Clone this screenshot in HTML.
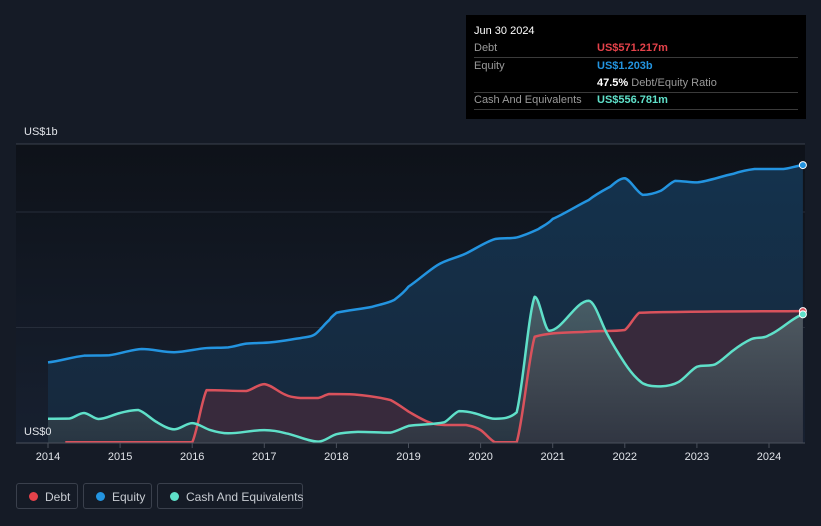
<!DOCTYPE html>
<html><head><meta charset="utf-8"><style>
body{margin:0;background:#151b26;width:821px;height:526px;overflow:hidden;font-family:"Liberation Sans",sans-serif}
svg{position:absolute;left:0;top:0}
.tip{position:absolute;left:466px;top:15px;width:340px;height:104px;background:#000;color:#fff;font-size:11px}
.row{position:absolute;left:8px;width:324px;border-bottom:1px solid #3a3a3a;height:17px}
.lab{position:absolute;left:0;top:2px;color:#9a9a9a}
.val{position:absolute;left:123px;top:2px;font-weight:bold;white-space:nowrap}
.leg{position:absolute;top:483px;height:26px;border:1px solid #3a404c;border-radius:3px;color:#c8ccd2;font-size:12px;box-sizing:border-box;white-space:nowrap}
.leg i{position:absolute;left:12px;top:8px;width:9px;height:9px;border-radius:50%}
.leg span{position:absolute;left:28px;top:6px}
</style></head><body>
<svg width="821" height="526" id="chart">
<defs>
<linearGradient id="bg" x1="0" y1="0" x2="0" y2="1"><stop offset="0" stop-color="#0e1219"/><stop offset="1" stop-color="#172030"/></linearGradient>
<linearGradient id="eq" x1="0" y1="0" x2="0" y2="1"><stop offset="0" stop-color="#14324d"/><stop offset="1" stop-color="#16283c"/></linearGradient>
<linearGradient id="ca" x1="0" y1="0" x2="0" y2="1"><stop offset="0" stop-color="#5a6e72"/><stop offset="1" stop-color="#2e3a44"/></linearGradient>
</defs>
<rect x="16" y="144" width="789" height="299" fill="url(#bg)"/>
<g id="grid"></g><g id="areas"></g><g id="lines"></g><g id="xaxis"></g>
<text x="24" y="135" fill="#e0e3e8" font-size="11">US$1b</text>
<text x="24" y="435" fill="#e0e3e8" font-size="11">US$0</text>
</svg>
<div class="tip">
<div style="position:absolute;left:8px;top:10px;font-size:11px">Jun 30 2024</div>
<div class="row" style="top:25px"><span class="lab">Debt</span><span class="val" style="color:#e5424a">US$571.217m</span></div>
<div class="row" style="top:43px;border:none"><span class="lab">Equity</span><span class="val" style="color:#2394e0">US$1.203b</span></div>
<div class="row" style="top:60px"><span class="val" style="color:#fff">47.5% <span style="color:#9a9a9a;font-weight:normal">Debt/Equity Ratio</span></span></div>
<div class="row" style="top:77px"><span class="lab">Cash And Equivalents</span><span class="val" style="color:#5fe0c9">US$556.781m</span></div>
</div>
<div class="leg" style="left:16px;width:62px"><i style="background:#e5424a"></i><span>Debt</span></div>
<div class="leg" style="left:83px;width:69px"><i style="background:#2394e0"></i><span>Equity</span></div>
<div class="leg" style="left:157px;width:146px"><i style="background:#5fe0c9"></i><span>Cash And Equivalents</span></div>
<script>
const years=[2014,2015,2016,2017,2018,2019,2020,2021,2022,2023,2024];
const gridValues=[0.5,1.0];
const equityT=[2014,2014.5,2014.85,2015.3,2015.75,2016.2,2016.5,2016.75,2017.1,2017.5,2017.7,2017.9,2018,2018.5,2018.8,2019,2019.4,2019.8,2020.2,2020.5,2020.8,2021,2021.5,2021.8,2022,2022.25,2022.5,2022.7,2023,2023.5,2023.8,2024.2,2024.47];
const equityV=[0.349,0.378,0.38,0.407,0.393,0.411,0.414,0.43,0.436,0.454,0.47,0.532,0.564,0.59,0.619,0.677,0.77,0.821,0.883,0.89,0.926,0.97,1.052,1.11,1.146,1.074,1.092,1.135,1.128,1.165,1.186,1.186,1.203];
const debtT=[2014.24,2016,2016.2,2016.75,2017,2017.3,2017.5,2017.75,2017.9,2018.25,2018.75,2019,2019.3,2019.5,2019.8,2020,2020.2,2020.5,2020.75,2021.5,2022,2022.2,2024.47];
const debtV=[0.003,0.003,0.229,0.225,0.255,0.208,0.195,0.195,0.212,0.21,0.186,0.136,0.088,0.078,0.078,0.056,0.003,0.003,0.46,0.482,0.489,0.564,0.571];
const cashT=[2014,2014.3,2014.5,2014.7,2015,2015.25,2015.5,2015.75,2016,2016.25,2016.5,2017,2017.3,2017.75,2018,2018.3,2018.75,2019,2019.5,2019.7,2019.9,2020.2,2020.5,2020.75,2020.95,2021.5,2021.75,2022,2022.25,2022.5,2022.75,2023,2023.25,2023.5,2023.75,2024,2024.47];
const cashV=[0.105,0.106,0.13,0.104,0.13,0.143,0.092,0.059,0.086,0.056,0.042,0.056,0.042,0.006,0.038,0.048,0.045,0.074,0.09,0.138,0.13,0.105,0.133,0.633,0.486,0.616,0.475,0.345,0.258,0.245,0.265,0.33,0.34,0.4,0.449,0.467,0.557];
const X=t=>48+(t-2014)*72.1;
const Y=v=>443-v*231;
const NS='http://www.w3.org/2000/svg';
function mk(tag,attrs,parent){const e=document.createElementNS(NS,tag);for(const k in attrs)e.setAttribute(k,attrs[k]);parent.appendChild(e);return e;}
function pathD(T,V){const p=T.map((t,i)=>[X(t),Y(V[i])]);let d='M'+p[0][0]+','+p[0][1];
for(let i=0;i<p.length-1;i++){const p0=p[Math.max(0,i-1)],p1=p[i],p2=p[i+1],p3=p[Math.min(p.length-1,i+2)];const k=0.18;
let c1y=p1[1]+(p2[1]-p0[1])*k,c2y=p2[1]-(p3[1]-p1[1])*k;const lo=Math.min(p1[1],p2[1]),hi=Math.max(p1[1],p2[1]);c1y=Math.min(hi,Math.max(lo,c1y));c2y=Math.min(hi,Math.max(lo,c2y));
d+=' C'+(p1[0]+(p2[0]-p1[0])/3)+','+c1y+' '+(p2[0]-(p2[0]-p1[0])/3)+','+c2y+' '+p2[0]+','+p2[1];}return d;}
const grid=document.getElementById('grid'),areas=document.getElementById('areas'),lines=document.getElementById('lines'),xa=document.getElementById('xaxis');
let gl=mk('line',{x1:16,x2:805,y1:144,y2:144,stroke:'#3a414d','stroke-width':1},grid);

gridValues.forEach(v=>{const l=mk('line',{x1:16,x2:805,y1:Y(v),y2:Y(v),stroke:'#262d3a','stroke-width':1},grid);

});
const series=[[equityT,equityV,'url(#eq)','#2394e0',1,'equity'],[debtT,debtV,'#3c2a3c','#d9525c',0.9,'debt'],[cashT,cashV,'url(#ca)','#5fe0c9',0.75,'cash']];
series.forEach(s=>{const d=pathD(s[0],s[1]);const a=mk('path',{d:d+' L'+X(s[0][s[0].length-1])+',443 L'+X(s[0][0])+',443 Z',fill:s[2],'fill-opacity':s[4]},areas);

});
series.forEach(s=>{const l=mk('path',{d:pathD(s[0],s[1]),fill:'none',stroke:s[3],'stroke-width':2.5,'stroke-linejoin':'round'},lines);


const c=mk('circle',{cx:X(s[0][s[0].length-1]),cy:Y(s[1][s[1].length-1]),r:3.5,fill:s[3],stroke:'#fff','stroke-width':1},lines);

});
const ax=mk('line',{x1:16,x2:805,y1:443,y2:443,stroke:'#4a505c','stroke-width':1},xa);

years.forEach(y=>{const t=mk('line',{x1:X(y),x2:X(y),y1:443,y2:448,stroke:'#4a505c'},xa);


const tx=mk('text',{x:X(y),y:460,fill:'#e0e3e8','font-size':11,'text-anchor':'middle'},xa);tx.textContent=y;

});
</script>
</body></html>
